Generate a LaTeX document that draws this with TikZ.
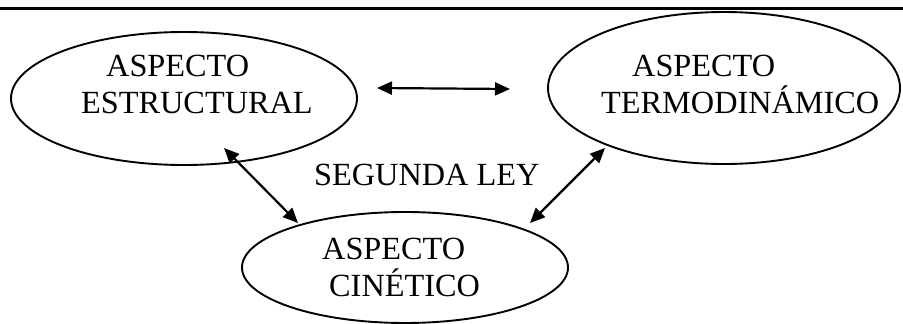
\documentclass[tikz,border=0pt]{standalone}
\usepackage{fontspec}
\setmainfont{Liberation Serif}
\usetikzlibrary{shapes.geometric,arrows.meta}
\tikzset{
  oval/.style={ellipse, draw, line width=1.9pt, inner sep=0pt},
  lbl/.style={anchor=base west, inner sep=0pt, font=\fontsize{32.3}{37}\selectfont},
  link/.style={line width=2.2pt, {Triangle[length=15pt,width=13pt]}-{Triangle[length=15pt,width=13pt]}},
}
\begin{document}
\begin{tikzpicture}[x=1pt,y=-1pt]
\useasboundingbox (0,0) rectangle (903,324);
\draw[line width=2.8pt] (0,8.5) -- (903,8.5);
% ellipses
\node[oval, minimum width=346pt, minimum height=133pt] (est) at (184,98.5) {};
\node[oval, minimum width=352pt, minimum height=152pt] (ter) at (724,88) {};
\node[oval, minimum width=326pt, minimum height=111pt] (cin) at (405,267.5) {};
% texts
\node[lbl] (t1) at (106,76) {ASPECTO};
\node[lbl] (t2) at (81,113) {ESTRUCTURAL};
\node[lbl] (t3) at (632,76) {ASPECTO};
\node[lbl] (t4) at (601,113) {TERMODINÁMICO};
\node[lbl] (t5) at (322,259) {ASPECTO};
\node[lbl] (t6) at (329,296) {CINÉTICO};
\node[lbl] (ley) at (314,185) {SEGUNDA LEY};
% connector ends
\coordinate (h1) at (377,88);
\coordinate (h2) at (510,89);
\coordinate (l1) at (224,148);
\coordinate (l2) at (298,223);
\coordinate (r1) at (605,148);
\coordinate (r2) at (530,223);
\draw[link] (h1) -- (h2);
\draw[link] (l1) -- (l2);
\draw[link] (r1) -- (r2);
\end{tikzpicture}
\end{document}
